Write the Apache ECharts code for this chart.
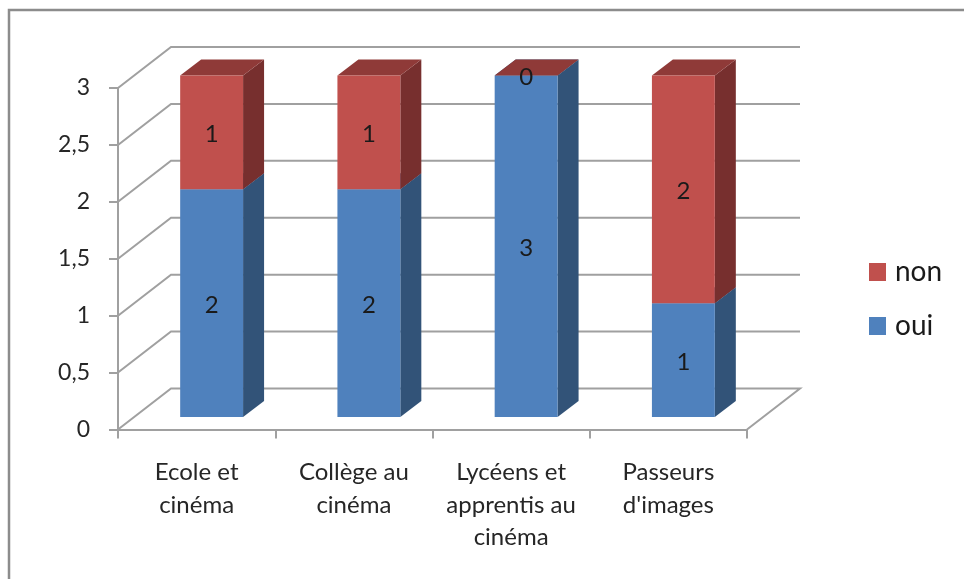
<!DOCTYPE html>
<html><head><meta charset="utf-8">
<style>html,body{margin:0;padding:0;background:#fff}#c{width:964px;height:579px;filter:blur(0.45px)}</style>
<script src="https://cdn.jsdelivr.net/npm/echarts@6/dist/echarts.min.js"></script>
</head><body><div id="c"></div>
<script>
const categories = ["Ecole et\ncinéma", "Collège au\ncinéma", "Lycéens et\napprentis au\ncinéma", "Passeurs\nd'images"];
const oui = [2, 2, 3, 1];
const non = [1, 1, 0, 2];
const yTicks = [0, 0.5, 1, 1.5, 2, 2.5, 3];

const FONT = 'Lato';
const WALL = '#a0a0a0', GRID = '#a0a0a0';
const DX = 53, DY = 41;          // depth of the plot box
const OX = 15, OY = 12.5;        // bars sit inside the box
const BDX = 21, BDY = 16;        // depth of one bar
const BAR = 0.4;

function gridItem(params, api) {
  const v = api.value(0);
  const band = api.size([1, 0])[0];
  const p0 = api.coord([0, v]);
  const p1 = api.coord([categories.length - 1, v]);
  const l = p0[0] - band / 2, r = p1[0] + band / 2, y = p0[1];
  const pts = [[l, y], [l + DX, y - DY], [r + DX, y - DY]];
  if (v === 0) pts.push([r, y]);
  return { type: 'polyline', shape: { points: pts }, style: { fill: null, stroke: GRID, lineWidth: 2 }, silent: true };
}

function barItem(front, side, top) {
  return function (params, api) {
    const i = api.value(0), base = api.value(1), val = api.value(2);
    const band = api.size([1, 0])[0];
    const w = band * BAR;
    const a = api.coord([i, base]), b = api.coord([i, base + val]);
    const x0 = a[0] + OX - w / 2, x1 = x0 + w;
    const y0 = a[1] - OY, y1 = b[1] - OY;
    return {
      type: 'group',
      children: [
        { type: 'polygon', shape: { points: [[x1, y0], [x1 + BDX, y0 - BDY], [x1 + BDX, y1 - BDY], [x1, y1]] }, style: { fill: side } },
        { type: 'polygon', shape: { points: [[x0, y1], [x1, y1], [x1 + BDX, y1 - BDY], [x0 + BDX, y1 - BDY]] }, style: { fill: top } },
        { type: 'rect', shape: { x: x0, y: y1, width: w, height: y0 - y1 }, style: { fill: front } },
        { type: 'text', z2: 10, style: { text: String(val), x: (x0 + x1) / 2, y: (y0 + y1) / 2 + 2, align: 'center', verticalAlign: 'middle', font: '24px ' + FONT, fill: '#1a1a1a' } }
      ]
    };
  };
}

const chart = echarts.init(document.getElementById('c'), null, { renderer: 'canvas' });
chart.setOption({
  animation: false,
  backgroundColor: '#fff',
  graphic: [{ type: 'polyline', z: -1, shape: { points: [[9, 579], [9, 10], [964, 10]] }, style: { fill: null, stroke: '#8c8c8c', lineWidth: 2.5 }, silent: true }],
  grid: { left: 118, top: 88, width: 629, height: 341.5 },
  xAxis: {
    type: 'category', data: categories,
    axisLine: { lineStyle: { color: WALL, width: 2 } },
    axisTick: { show: true, alignWithLabel: false, length: 9, lineStyle: { color: WALL, width: 2 } },
    axisLabel: { interval: 0, margin: 27, color: '#262626', fontFamily: FONT, fontSize: 24, lineHeight: 32.5 }
  },
  yAxis: {
    type: 'value', min: 0, max: 3, interval: 0.5,
    splitLine: { show: false },
    axisLine: { show: true, lineStyle: { color: WALL, width: 2 } },
    axisTick: { show: true, length: 9, lineStyle: { color: WALL, width: 2 } },
    axisLabel: { margin: 28, padding: [5, 0, 0, 0], color: '#262626', fontFamily: FONT, fontSize: 23, formatter: v => String(v).replace('.', ',') }
  },
  legend: {
    orient: 'vertical', left: 869, top: 258, padding: 0, data: ['non', 'oui'], icon: 'rect',
    itemWidth: 17, itemHeight: 18, itemGap: 26, selectedMode: false,
    textStyle: { fontFamily: FONT, fontSize: 28, color: '#1a1a1a', lineHeight: 18, padding: [0, 0, 0, 4] }
  },
  series: [
    { name: 'grille', type: 'custom', silent: true, z: 1, renderItem: gridItem, data: yTicks.map(v => [v]), encode: { y: 0 } },
    { name: 'oui', type: 'custom', z: 2, itemStyle: { color: '#4F81BD' }, renderItem: barItem('#4F81BD', '#325378', '#3A5F8C'),
      data: oui.map((v, i) => [i, 0, v]), encode: { x: 0, y: [1, 2] } },
    { name: 'non', type: 'custom', z: 3, itemStyle: { color: '#C0504D' }, renderItem: barItem('#C0504D', '#772F2E', '#8F3A38'),
      data: non.map((v, i) => [i, oui[i], v]), encode: { x: 0, y: [1, 2] } }
  ]
});
</script></body></html>
